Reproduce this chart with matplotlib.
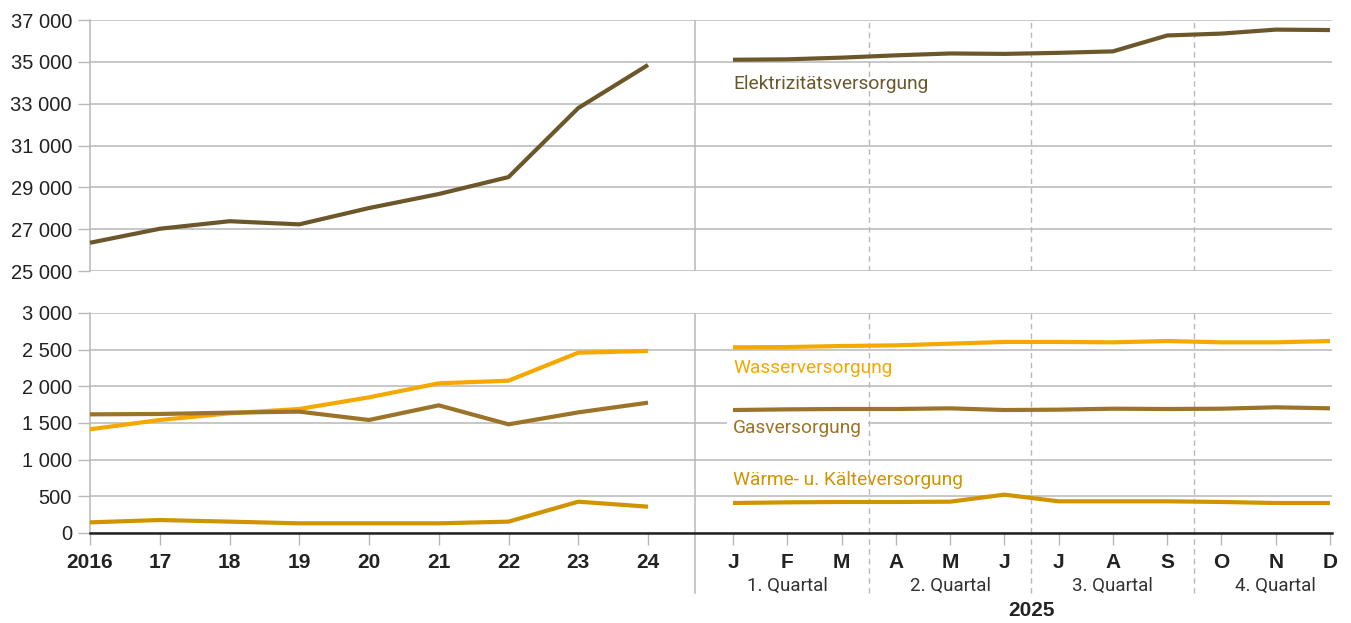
import matplotlib
matplotlib.use("Agg")
import matplotlib.pyplot as plt
import numpy as np

# ---------------- data ----------------
year_labels = ["2016", "17", "18", "19", "20", "21", "22", "23", "24"]
month_labels = ["J", "F", "M", "A", "M", "J", "J", "A", "S", "O", "N", "D"]
quarter_labels = ["1. Quartal", "2. Quartal", "3. Quartal", "4. Quartal"]
year_2025 = "2025"

elektrizitaet_years = [26350, 27020, 27380, 27230, 28010, 28680, 29490, 32790, 34850]
elektrizitaet_months = [35100, 35120, 35200, 35310, 35400, 35380, 35430, 35500, 36260, 36350, 36540, 36520]

wasser_years = [1414, 1541, 1632, 1691, 1850, 2041, 2077, 2459, 2482]
wasser_months = [2532, 2536, 2550, 2559, 2582, 2605, 2605, 2600, 2618, 2600, 2600, 2618]

gas_years = [1618, 1623, 1641, 1655, 1541, 1741, 1482, 1645, 1777]
gas_months = [1677, 1686, 1691, 1691, 1700, 1677, 1682, 1695, 1691, 1695, 1714, 1700]

waerme_years = [145, 177, 155, 132, 132, 132, 155, 427, 359]
waerme_months = [409, 418, 423, 423, 427, 523, 432, 432, 432, 423, 409, 409]

series_names = ["Elektrizitätsversorgung", "Wasserversorgung", "Gasversorgung",
                "Wärme- u. Kälteversorgung"]

# ---------------- style ----------------
C_EL = "#6c572b"
C_GAS = "#9b7429"
C_WAS = "#f5a800"
C_WAE = "#d09400"
GRID = "#b8b8b8"
TXT = "#222222"

num_font = ["Liberation Sans", "DejaVu Sans"]
lab_font = ["Liberation Sans Narrow", "Roboto", "DejaVu Sans"]

W, H = 1351, 623
fig = plt.figure(figsize=(W / 100, H / 100), dpi=100)

def px_axes(x0, y0, x1, y1):
    return fig.add_axes([x0 / W, 1 - y1 / H, (x1 - x0) / W, (y1 - y0) / H])

ax_top = px_axes(90, 20, 1332, 271)
ax_bot = px_axes(90, 313, 1332, 533)

# x positions (layout)
x_years = np.arange(len(year_labels))
unit = 69.75
x_sep = (695 - 90) / unit
x_months = (733 - 90) / unit + np.arange(len(month_labels)) * (54.27 / unit)
x_q = [(x_months[i] + x_months[i + 1]) / 2 for i in (2, 5, 8)]
xmax = (1332 - 90) / unit

def fmt(v):
    return f"{int(v):,}".replace(",", " ")

for ax, lo, hi, step in [(ax_top, 25000, 37000, 2000), (ax_bot, 0, 3000, 500)]:
    ax.set_xlim(0, xmax)
    ax.set_ylim(lo, hi)
    ticks = np.arange(lo, hi + 1, step)
    ax.set_yticks(ticks)
    ax.set_yticklabels([fmt(t) for t in ticks], fontfamily=num_font, fontsize=14.5, color=TXT)
    ax.tick_params(axis="y", length=8.5, width=1, color=GRID, pad=4.5)
    for t in ticks:
        ax.axhline(t, color=GRID, lw=1.1, zorder=1)
    for s in ["top", "right", "bottom"]:
        ax.spines[s].set_visible(False)
    ax.spines["left"].set_color(GRID)
    ax.spines["left"].set_linewidth(1.1)
    ax.axvline(x_sep, color=GRID, lw=1.1, zorder=1)
    for xq in x_q:
        ax.axvline(xq, color=GRID, lw=1.0, ls=(0, (4, 3)), zorder=1)

ax_top.set_xticks([])

# bottom axis
ax_bot.axhline(0, color="#222222", lw=1.8, zorder=3, clip_on=False)
xt = list(x_years) + list(x_months)
ax_bot.set_xticks(xt)
ax_bot.set_xticklabels(year_labels + month_labels, fontfamily=num_font, fontsize=15,
                       fontweight="bold", color=TXT)
ax_bot.tick_params(axis="x", length=8.5, width=1, color=GRID, pad=6)

# extended separators below axis
ext = (533 - 593) / 220
trans = ax_bot.get_xaxis_transform()
ax_bot.plot([x_sep, x_sep], [ext, 0], color=GRID, lw=1.1, transform=trans, clip_on=False)
for xq in x_q:
    ax_bot.plot([xq, xq], [ext, 0], color=GRID, lw=1.0, ls=(0, (4, 3)),
                transform=trans, clip_on=False)

# quarter labels
q_centers = [x_months[1], x_months[4], x_months[7], x_months[10]]
yq = (533 - 586) / 220
for xc, ql in zip(q_centers, quarter_labels):
    ax_bot.text(xc, yq, ql, transform=trans, ha="center", va="center",
                fontfamily=lab_font, fontsize=13.5, color="#333333")
ax_bot.text((x_months[0] + x_months[-1]) / 2, (533 - 610) / 220, year_2025, transform=trans,
            ha="center", va="center", fontfamily=num_font, fontsize=15,
            fontweight="bold", color=TXT)

# lines
LW = 3.0
ax_top.plot(x_years, elektrizitaet_years, color=C_EL, lw=LW, zorder=4, clip_on=False,
            solid_capstyle="butt")
ax_top.plot(x_months, elektrizitaet_months, color=C_EL, lw=LW, zorder=4, clip_on=False,
            solid_capstyle="butt")
for yv, mv, c in [(wasser_years, wasser_months, C_WAS), (gas_years, gas_months, C_GAS),
                  (waerme_years, waerme_months, C_WAE)]:
    ax_bot.plot(x_years, yv, color=c, lw=LW, zorder=4, clip_on=False, solid_capstyle="butt")
    ax_bot.plot(x_months, mv, color=c, lw=LW, zorder=4, clip_on=False, solid_capstyle="butt")

# series labels
x_lab = x_months[0]
LFS = 13.8
ax_top.text(x_lab, 33940, series_names[0], color=C_EL, fontfamily=lab_font, fontsize=LFS,
            ha="left", va="center", zorder=5)
ax_bot.text(x_lab, 2250, series_names[1], color=C_WAS, fontfamily=lab_font, fontsize=LFS,
            ha="left", va="center", zorder=5)
ax_bot.text(x_lab, 1432, series_names[2], color=C_GAS, fontfamily=lab_font, fontsize=LFS,
            ha="left", va="center", zorder=5,
            bbox=dict(boxstyle="square,pad=0.3", fc="white", ec="none"))
ax_bot.text(x_lab, 723, series_names[3], color=C_WAE, fontfamily=lab_font, fontsize=LFS,
            ha="left", va="center", zorder=5)

fig.savefig("out.png", dpi=100)
